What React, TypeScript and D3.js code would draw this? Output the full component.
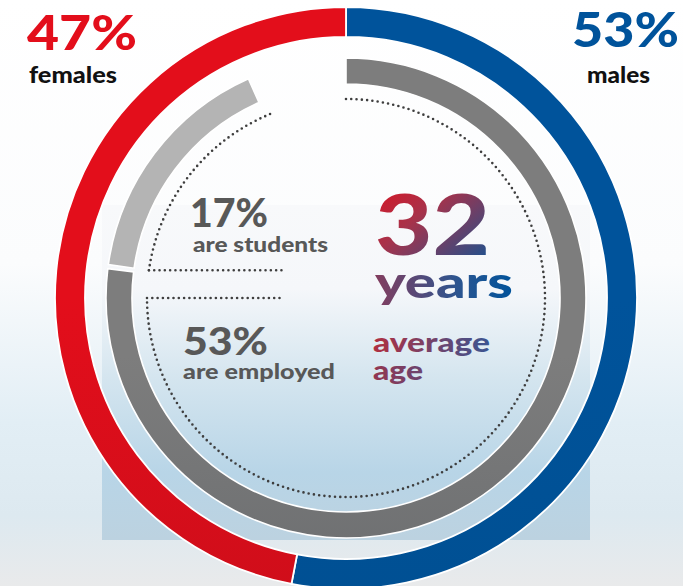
import React from "react";
import * as d3 from "d3";

// Gender split (outer ring)
const genderLabels = ["males", "females"];
const genderShares = [53, 47];
const genderColors = ["url(#blueGrad)", "url(#redGrad)"];

// Occupation arcs (inner ring), spans read in degrees from the picture
const occupationLabels = ["employed", "students"];
const occupationShares = [53, 17];
const occupationArcDeg = [
  [0, 277],
  [278, 336],
];
const occupationColors = ["url(#grayGrad)", "#b4b4b4"];

// Dotted guide arcs in degrees
const dottedArcDeg = [
  [0, 270],
  [278, 338],
];

const averageAge = 32;

const W = 683;
const H = 586;
const cx = 346;
const cy = 298;

const angle = d3.scaleLinear().domain([0, 360]).range([0, 2 * Math.PI]);

const App: React.FC = () => {
  const pie = d3
    .pie<number>()
    .sort(null)
    .value((d) => d);
  const genderArcs = pie(genderShares);

  const outerArc = d3.arc<d3.PieArcDatum<number>>().innerRadius(261).outerRadius(291);
  const innerArc = d3
    .arc<{ startAngle: number; endAngle: number }>()
    .innerRadius(214)
    .outerRadius(240);

  // open path for the dotted arcs
  const dottedPath = (a0: number, a1: number) => {
    const p = d3.path();
    p.arc(0, 0, 199, angle(a0) - Math.PI / 2, angle(a1) - Math.PI / 2, false);
    return p.toString();
  };
  const yAt = (deg: number) => -199 * Math.cos(angle(deg));
  const xAt = (deg: number) => 199 * Math.sin(angle(deg));

  const grayText = "#585858";
  const font = "Lato, 'Open Sans', sans-serif";
  const dotStyle = {
    stroke: "#3e3e3e",
    strokeWidth: 2.6,
    strokeLinecap: "round" as const,
    strokeDasharray: "0 5.3",
  };

  return (
    <svg
      width={W}
      height={H}
      style={{ position: "absolute", left: 0, top: 0 }}
      fontFamily={font}
    >
      <defs>
        <linearGradient id="bgGrad" x1="0" y1="0" x2="0" y2="1">
          <stop offset="0" stopColor="#ffffff" />
          <stop offset="0.45" stopColor="#fbfcfd" />
          <stop offset="0.72" stopColor="#e2eef5" />
          <stop offset="0.88" stopColor="#dde9f0" />
          <stop offset="1" stopColor="#e9eaeb" />
        </linearGradient>
        <linearGradient id="panelGrad" x1="0" y1="205" x2="0" y2="540" gradientUnits="userSpaceOnUse">
          <stop offset="0" stopColor="#f8f9fb" />
          <stop offset="0.25" stopColor="#f5f7fa" />
          <stop offset="0.52" stopColor="#d4e5ef" />
          <stop offset="0.8" stopColor="#b8d5e7" />
          <stop offset="1" stopColor="#bcd2e0" />
        </linearGradient>
        <linearGradient id="redGrad" x1="0" y1="0" x2="0" y2={H} gradientUnits="userSpaceOnUse">
          <stop offset="0" stopColor="#e30e1b" />
          <stop offset="1" stopColor="#bd0d19" />
        </linearGradient>
        <linearGradient id="blueGrad" x1="0" y1="0" x2="0" y2={H} gradientUnits="userSpaceOnUse">
          <stop offset="0" stopColor="#00539b" />
          <stop offset="1" stopColor="#004d8c" />
        </linearGradient>
        <linearGradient id="grayGrad" x1="0" y1="58" x2="0" y2="538" gradientUnits="userSpaceOnUse">
          <stop offset="0" stopColor="#7d7d7d" />
          <stop offset="0.5" stopColor="#6c6e70" />
          <stop offset="1" stopColor="#505c65" />
        </linearGradient>
        <linearGradient id="grad32" x1="0" y1="0" x2="1" y2="1">
          <stop offset="0" stopColor="#e30e1b" />
          <stop offset="0.4" stopColor="#a8324a" />
          <stop offset="1" stopColor="#0a5597" />
        </linearGradient>
        <linearGradient id="gradYears" x1="0" y1="0" x2="1" y2="0">
          <stop offset="0" stopColor="#833d5e" />
          <stop offset="0.6" stopColor="#2c5590" />
          <stop offset="1" stopColor="#00539b" />
        </linearGradient>
        <linearGradient id="gradAvg" x1="0" y1="0" x2="1" y2="0">
          <stop offset="0" stopColor="#b02f40" />
          <stop offset="1" stopColor="#3a5592" />
        </linearGradient>
        <linearGradient id="gradAge" x1="0" y1="0" x2="1" y2="0">
          <stop offset="0" stopColor="#933650" />
          <stop offset="1" stopColor="#6a4470" />
        </linearGradient>
      </defs>

      {/* background */}
      <rect x={0} y={0} width={W} height={H} fill="url(#bgGrad)" />
      <rect x={102} y={205} width={488} height={335} fill="url(#panelGrad)" />

      <g transform={`translate(${cx},${cy})`}>
        {/* outer gender ring */}
        {genderArcs.map((a, i) => (
          <path
            key={genderLabels[i]}
            d={outerArc(a) || ""}
            fill={genderColors[i]}
            stroke="#ffffff"
            strokeWidth={1.8}
          />
        ))}

        {/* inner occupation ring */}
        {occupationArcDeg.map(([a0, a1], i) => (
          <path
            key={occupationLabels[i]}
            d={innerArc({ startAngle: angle(a0), endAngle: angle(a1) }) || ""}
            fill={occupationColors[i]}
            stroke="#ffffff"
            strokeWidth={1.6}
          />
        ))}

        {/* dotted guides */}
        {dottedArcDeg.map(([a0, a1], i) => (
          <path key={i} d={dottedPath(a0, a1)} fill="none" {...dotStyle} />
        ))}
        {[dottedArcDeg[1][0], dottedArcDeg[0][1]].map((deg, i) => (
          <line
            key={i}
            x1={xAt(deg)}
            x2={283 - cx}
            y1={yAt(deg)}
            y2={yAt(deg)}
            {...dotStyle}
          />
        ))}
      </g>

      {/* gender labels */}
      <text x={27} y={50} fontSize={48} fontWeight={900} fill="#e30e1b" textLength={110} lengthAdjust="spacingAndGlyphs">
        {`${genderShares[1]}%`}
      </text>
      <text x={29} y={83} fontSize={22} fontWeight={900} fill="#111111" textLength={88} lengthAdjust="spacingAndGlyphs">
        {genderLabels[1]}
      </text>
      <text x={572} y={47} fontSize={47} fontWeight={900} fill="#00539b" textLength={107} lengthAdjust="spacingAndGlyphs">
        {`${genderShares[0]}%`}
      </text>
      <text x={587} y={83} fontSize={22} fontWeight={900} fill="#111111" textLength={63} lengthAdjust="spacingAndGlyphs">
        {genderLabels[0]}
      </text>

      {/* occupation labels */}
      <text x={190} y={227} fontSize={40} fontWeight={900} fill={grayText} textLength={78} lengthAdjust="spacingAndGlyphs">
        {`${occupationShares[1]}%`}
      </text>
      <text x={193} y={252} fontSize={20} fontWeight={900} fill={grayText} textLength={135} lengthAdjust="spacingAndGlyphs">
        are {occupationLabels[1]}
      </text>
      <text x={183} y={355} fontSize={38} fontWeight={900} fill={grayText} textLength={85} lengthAdjust="spacingAndGlyphs">
        {`${occupationShares[0]}%`}
      </text>
      <text x={183} y={379} fontSize={20} fontWeight={900} fill={grayText} textLength={152} lengthAdjust="spacingAndGlyphs">
        are {occupationLabels[0]}
      </text>

      {/* average age */}
      <text x={375} y={255} fontSize={84} fontWeight={900} fill="url(#grad32)" textLength={115} lengthAdjust="spacingAndGlyphs">
        {averageAge}
      </text>
      <text x={375} y={298} fontSize={44} fontWeight={900} fill="url(#gradYears)" textLength={138} lengthAdjust="spacingAndGlyphs">
        years
      </text>
      <text x={373} y={352} fontSize={27} fontWeight={900} fill="url(#gradAvg)" textLength={117} lengthAdjust="spacingAndGlyphs">
        average
      </text>
      <text x={373} y={380} fontSize={27} fontWeight={900} fill="url(#gradAge)" textLength={50} lengthAdjust="spacingAndGlyphs">
        age
      </text>
    </svg>
  );
};

export default App;
